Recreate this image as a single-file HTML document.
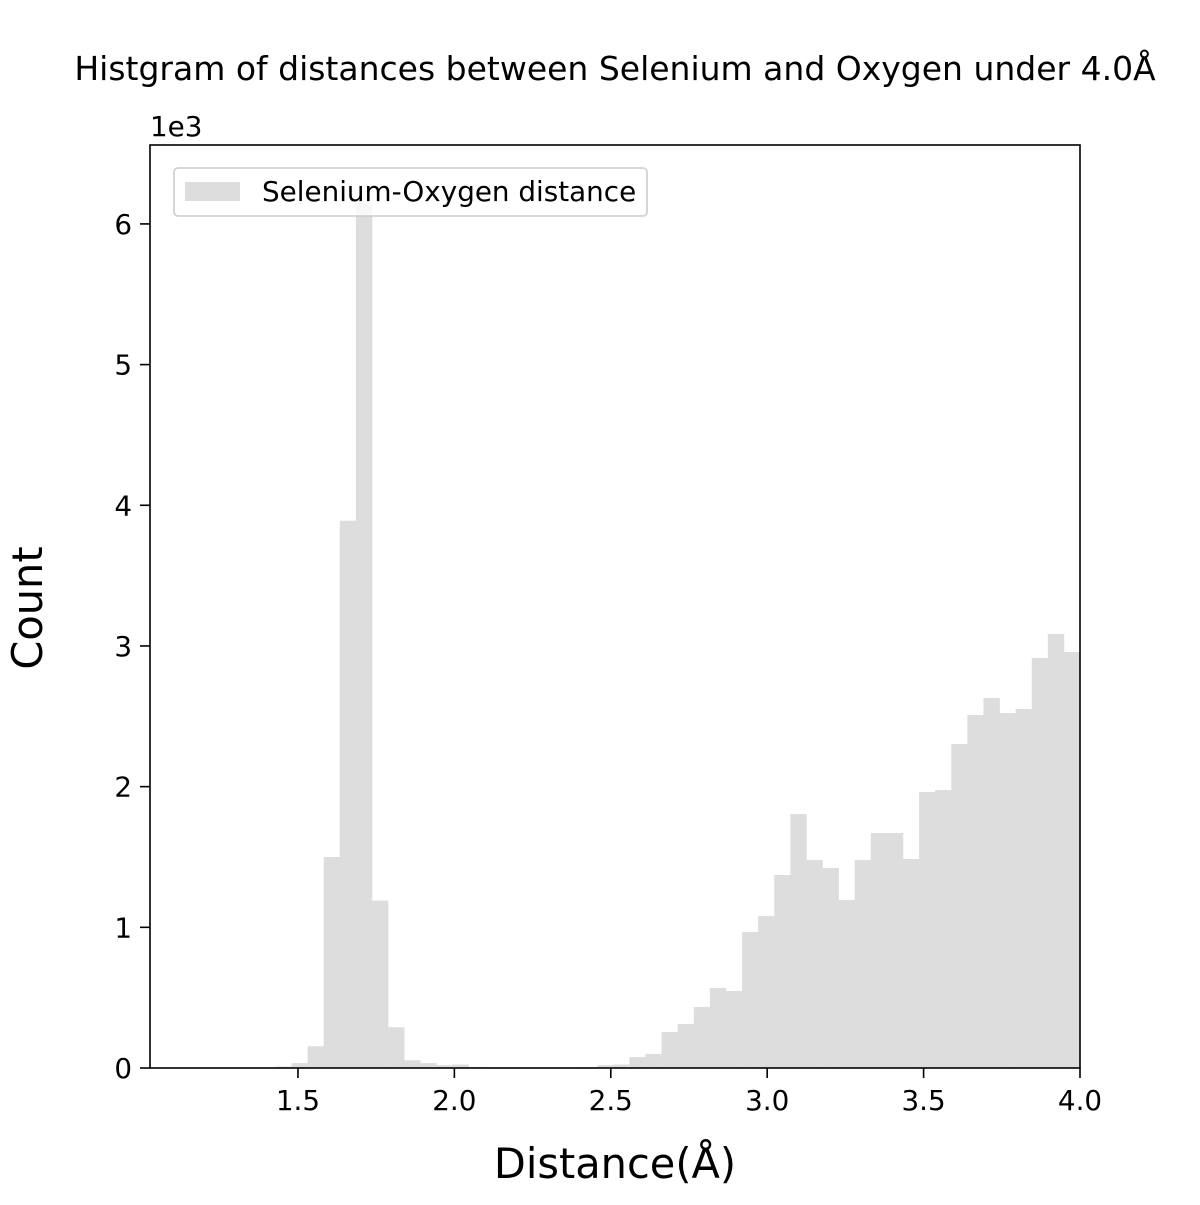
<!DOCTYPE html>
<html><head><meta charset="utf-8"><style>
body{margin:0;background:#fff}
svg text{font-family:"DejaVu Sans","Liberation Sans",sans-serif;fill:#000}
</style></head><body>
<svg id="chart" width="1200" height="1200" viewBox="0 0 1200 1200" xmlns="http://www.w3.org/2000/svg">
<rect width="1200" height="1200" fill="#fff"/>
<text x="615" y="80" font-size="33" text-anchor="middle">Histgram of distances between Selenium and Oxygen under 4.0Å</text>
<g id="bars"></g>
<rect x="150" y="145" width="930" height="923" fill="none" stroke="#000" stroke-width="1.6"/>
<g id="xticks"></g>
<g id="yticks"></g>
<text x="150" y="136" font-size="27.8">1e3</text>
<text x="615" y="1178" font-size="41.5" text-anchor="middle">Distance(Å)</text>
<text x="0" y="0" font-size="41.5" text-anchor="middle" transform="translate(42,608) rotate(-90)">Count</text>
<g>
<rect x="174" y="168" width="473" height="48" rx="4" fill="#fff" fill-opacity="0.8" stroke="#ccc" stroke-width="1.6"/>
<rect x="185" y="182" width="55" height="19" fill="#dddddd"/>
<text x="262" y="201" font-size="27.8">Selenium-Oxygen distance</text>
</g>
</svg>
<script>
const counts = [0,0,0,0,0,0,0,2,10,35,155,1500,3890,6150,1190,290,55,35,20,25,8,6,5,3,2,2,3,5,20,25,78,100,256,313,434,569,547,967,1080,1372,1805,1478,1422,1194,1478,1670,1670,1486,1962,1976,2303,2509,2630,2523,2552,2914,3085,2957];
const xTicks = [1.5,2.0,2.5,3.0,3.5,4.0];
const xTickLabels = ["1.5","2.0","2.5","3.0","3.5","4.0"];
const yTicks = [0,1,2,3,4,5,6];
const yTickLabels = ["0","1","2","3","4","5","6"];
const xMin = 1.027, xMax = 4.0, yMax = 6.561;
const binWidth = 0.05144;
const X = v => 150 + (v - xMin) / (xMax - xMin) * 930;
const Y = v => 1068 - v / yMax * 923;
const NS = "http://www.w3.org/2000/svg";
const binStart = xMax - counts.length * binWidth;
const bars = document.getElementById('bars');
counts.forEach((c, i) => {
  if (c <= 0) return;
  const r = document.createElementNS(NS, 'rect');
  
  
  const x0 = Math.max(X(binStart + i * binWidth), 150), x1 = X(binStart + (i + 1) * binWidth);
  const y = Math.max(Y(c / 1000), 145);
  r.setAttribute('x', x0); r.setAttribute('width', x1 - x0 + 0.3);
  r.setAttribute('y', y); r.setAttribute('height', 1068 - y);
  r.setAttribute('fill', '#dddddd');
  bars.appendChild(r);
});
const xg = document.getElementById('xticks');
xTicks.forEach((t, i) => {
  const l = document.createElementNS(NS, 'line');
  
  
  l.setAttribute('x1', X(t)); l.setAttribute('x2', X(t));
  l.setAttribute('y1', 1068); l.setAttribute('y2', 1078);
  l.setAttribute('stroke', '#000'); l.setAttribute('stroke-width', '1.6');
  xg.appendChild(l);
  const tx = document.createElementNS(NS, 'text');
  
  
  tx.setAttribute('x', X(t)); tx.setAttribute('y', 1110);
  tx.setAttribute('font-size', '27.8'); tx.setAttribute('text-anchor', 'middle');
  tx.textContent = xTickLabels[i];
  xg.appendChild(tx);
});
const yg = document.getElementById('yticks');
yTicks.forEach((t, i) => {
  const l = document.createElementNS(NS, 'line');
  
  
  l.setAttribute('x1', 140); l.setAttribute('x2', 150);
  l.setAttribute('y1', Y(t)); l.setAttribute('y2', Y(t));
  l.setAttribute('stroke', '#000'); l.setAttribute('stroke-width', '1.6');
  yg.appendChild(l);
  const tx = document.createElementNS(NS, 'text');
  
  
  tx.setAttribute('x', 132); tx.setAttribute('y', Y(t) + 10);
  tx.setAttribute('font-size', '27.8'); tx.setAttribute('text-anchor', 'end');
  tx.textContent = yTickLabels[i];
  yg.appendChild(tx);
});
</script>
</body></html>
